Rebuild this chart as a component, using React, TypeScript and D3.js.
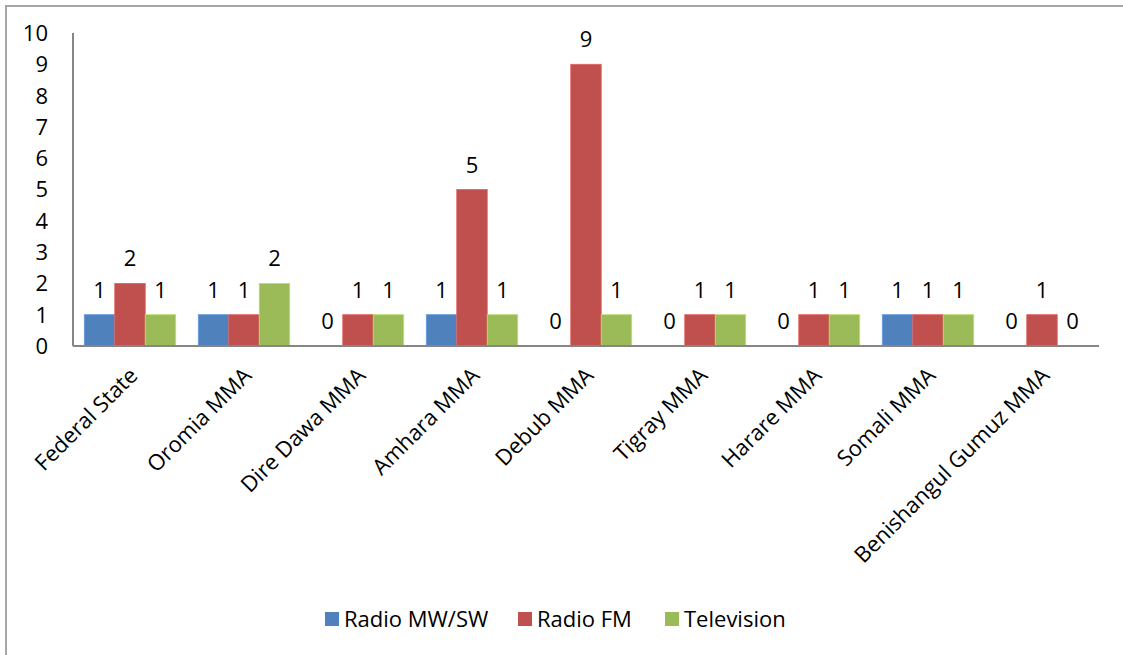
import React from "react";
import * as d3 from "d3";

// Broadcast outlets per administration, by medium
const categories = [
  "Federal State",
  "Oromia MMA",
  "Dire Dawa MMA",
  "Amhara MMA",
  "Debub MMA",
  "Tigray MMA",
  "Harare MMA",
  "Somali MMA",
  "Benishangul Gumuz MMA",
];
const radioMWSW = [1, 1, 0, 1, 0, 0, 0, 1, 0];
const radioFM = [2, 1, 1, 5, 9, 1, 1, 1, 1];
const television = [1, 2, 1, 1, 1, 1, 1, 1, 0];
const seriesNames = ["Radio MW/SW", "Radio FM", "Television"];
const seriesColors = ["#4F81BD", "#C0504D", "#9BBB59"];
const yTicks = [0, 1, 2, 3, 4, 5, 6, 7, 8, 9, 10];

const W = 1123;
const H = 655;
const FONT = "'Open Sans', 'Liberation Sans', sans-serif";
const FS = 22;

export default function App() {
  const seriesValues = [radioMWSW, radioFM, television];
  const left = 73;
  const right = 1099;
  const top = 33;
  const bottom = 346;

  const x = d3.scaleBand<string>().domain(categories).range([left, right]).paddingInner(0).paddingOuter(0);
  const y = d3.scaleLinear().domain([0, 10]).range([bottom, top]);
  const gap = 11.3;
  const inner = d3
    .scaleBand<number>()
    .domain([0, 1, 2])
    .range([gap, x.bandwidth() - gap]);

  const legendItems = [
    { sx: 325, tx: 344 },
    { sx: 518, tx: 537 },
    { sx: 665, tx: 684 },
  ];

  return (
    <svg
      width={W}
      height={H}
      style={{ position: "absolute", left: 0, top: 0, background: "#fff" }}
      fontFamily={FONT}
    >
      <rect x={6} y={6} width={W + 10} height={H + 10} fill="#fff" stroke="#a6a6a6" strokeWidth={2} />

      {/* y tick labels */}
      {yTicks.map((t) => (
        <text key={t} x={48} y={y(t)} dy="0.36em" textAnchor="end" fontSize={FS} fill="#000">
          {t}
        </text>
      ))}

      {/* bars */}
      {categories.map((c, ci) => (
        <g key={c} transform={`translate(${x(c)},0)`}>
          {seriesValues.map((vals, si) => {
            const v = vals[ci];
            const bx = inner(si)!;
            const bw = inner.bandwidth();
            return (
              <g key={si}>
                {v > 0 && (
                  <rect
                    x={bx}
                    y={y(v)}
                    width={bw}
                    height={y(0) - y(v)}
                    fill={seriesColors[si]}
                    stroke={d3.color(seriesColors[si])!.brighter(0.5).formatHex()}
                    strokeWidth={0.8}
                  />
                )}
                <text
                  x={bx + bw / 2}
                  y={y(v) - 17}
                  textAnchor="middle"
                  fontSize={FS}
                  fill="#000"
                >
                  {v}
                </text>
              </g>
            );
          })}
        </g>
      ))}

      {/* axes */}
      <line x1={left} x2={left} y1={top} y2={bottom} stroke="#868686" strokeWidth={2} />
      <line x1={left} x2={right} y1={bottom} y2={bottom} stroke="#868686" strokeWidth={2} />

      {/* category labels */}
      {categories.map((c) => {
        const cx = x(c)! + x.bandwidth() / 2;
        return (
          <text
            key={c}
            transform={`translate(${cx - 2},${366}) rotate(-45)`}
            textAnchor="end"
            dy="0.7em"
            fontSize={FS}
            fill="#000"
          >
            {c}
          </text>
        );
      })}

      {/* legend */}
      {seriesNames.map((n, i) => (
        <g key={n}>
          <rect x={legendItems[i].sx} y={612} width={14} height={14} fill={seriesColors[i]} />
          <text x={legendItems[i].tx} y={619} dy="0.36em" fontSize={FS} fill="#000">
            {n}
          </text>
        </g>
      ))}
    </svg>
  );
}
